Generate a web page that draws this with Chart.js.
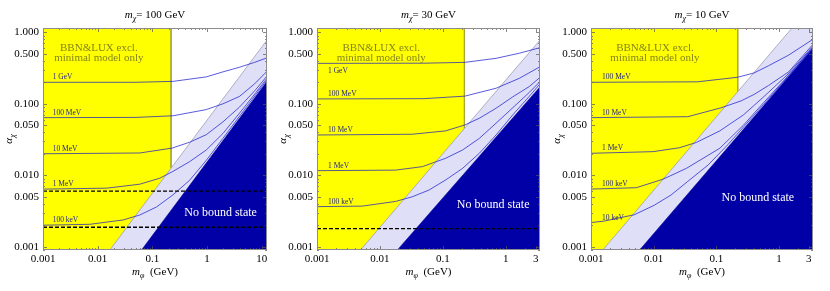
<!DOCTYPE html>
<html>
<head>
<meta charset="utf-8">
<title>Bound state regions</title>
<script src="https://cdn.jsdelivr.net/npm/chart.js@4"></script>
<style>
  body { margin: 0; background: #fff; width: 830px; height: 291px; position: relative; overflow: hidden; }
  .panel { position: absolute; top: 0; }
</style>
</head>
<body>
<div class="panel" style="left:0px"><canvas id="p1" width="277" height="291"></canvas></div>
<div class="panel" style="left:277px"><canvas id="p2" width="277" height="291"></canvas></div>
<div class="panel" style="left:554px"><canvas id="p3" width="276" height="291"></canvas></div>
<script>
const FONT = "'Liberation Serif', 'DejaVu Serif', serif";

// Axes
const yTicks = [0.001, 0.005, 0.01, 0.05, 0.1, 0.5, 1];
const yTickLabels = ['0.001', '0.005', '0.010', '0.050', '0.100', '0.500', '1.000'];
const xTicksP1 = [0.001, 0.01, 0.1, 1, 10];
const xTickLabelsP1 = ['0.001', '0.01', '0.1', '1', '10'];
const xTicksP23 = [0.001, 0.01, 0.1, 1, 3];
const xTickLabelsP23 = ['0.001', '0.01', '0.1', '1', '3'];
const massLabels = ['100 GeV', '30 GeV', '10 GeV'];

// Panel 1: m_chi = 100 GeV
const p1YellowX = [0.001, 0.22, 0.22];
const p1YellowY = [1.15, 1.15, 0.0126];
const p1BandX = [0.0167, 12.5];
const p1BandY = [0.0009, 0.78];
const p1DarkX = [0.0633, 12.5];
const p1DarkY = [0.0009, 0.206];
const p1Dashed = [0.006, 0.00187];
const p1Labels = ['1 GeV', '100 MeV', '10 MeV', '1 MeV', '100 keV'];
const p1C1X = [0.001, 0.05, 0.24, 0.97, 1.96, 2.93, 3.93, 7.4, 12.5];
const p1C1Y = [0.2, 0.2, 0.206, 0.238, 0.28, 0.305, 0.325, 0.38, 0.44];
const p1C2X = [0.001, 0.05, 0.24, 0.97, 1.96, 3.93, 7.4, 12.5];
const p1C2Y = [0.064, 0.0645, 0.068, 0.083, 0.1, 0.127, 0.19, 0.285];
const p1C3X = [0.001, 0.059, 0.23, 0.48, 0.97, 1.96, 3.93, 7.9, 12.5];
const p1C3Y = [0.02, 0.0205, 0.024, 0.029, 0.037, 0.056, 0.09, 0.16, 0.245];
const p1C4X = [0.001, 0.0146, 0.059, 0.137, 0.237, 0.48, 0.97, 1.96, 3.93, 7.9, 12.5];
const p1C4Y = [0.0064, 0.0066, 0.0075, 0.0091, 0.0113, 0.0155, 0.0226, 0.0385, 0.074, 0.145, 0.228];
const p1C5X = [0.001, 0.0072, 0.0293, 0.059, 0.119, 0.237, 0.48, 0.97, 1.96, 3.93, 7.9, 12.5];
const p1C5Y = [0.002, 0.00206, 0.00237, 0.00278, 0.0036, 0.0053, 0.0085, 0.0162, 0.033, 0.067, 0.136, 0.216];

// Panel 2: m_chi = 30 GeV
const p2YellowX = [0.001, 0.22, 0.22];
const p2YellowY = [1.15, 1.15, 0.0452];
const p2BandX = [0.00491, 3.5];
const p2BandY = [0.0009, 0.78];
const p2DarkX = [0.0189, 3.5];
const p2DarkY = [0.0009, 0.173];
const p2Dashed = [0.00179];
const p2Labels = ['1 GeV', '100 MeV', '10 MeV', '1 MeV', '100 keV'];
const p2C1X = [0.001, 0.05, 0.224, 0.7, 1.64, 3.5];
const p2C1Y = [0.368, 0.37, 0.38, 0.433, 0.51, 0.61];
const p2C2X = [0.001, 0.05, 0.224, 0.7, 1.64, 3.5];
const p2C2Y = [0.117, 0.118, 0.128, 0.165, 0.227, 0.33];
const p2C3X = [0.001, 0.0327, 0.111, 0.224, 0.38, 0.7, 1.29, 2.38, 3.5];
const p2C3Y = [0.0366, 0.0375, 0.0418, 0.0506, 0.0628, 0.0866, 0.125, 0.175, 0.235];
const p2C4X = [0.001, 0.0177, 0.0473, 0.111, 0.206, 0.38, 0.7, 1.29, 2.38, 3.5];
const p2C4Y = [0.0116, 0.0118, 0.0132, 0.0173, 0.0226, 0.0328, 0.0535, 0.088, 0.145, 0.205];
const p2C5X = [0.001, 0.00522, 0.0177, 0.0327, 0.06, 0.111, 0.206, 0.38, 0.7, 1.29, 2.38, 3.5];
const p2C5Y = [0.00364, 0.0037, 0.0043, 0.005, 0.0062, 0.0086, 0.0125, 0.0203, 0.0366, 0.07, 0.128, 0.19];

// Panel 3: m_chi = 10 GeV
const p3YellowX = [0.001, 0.22, 0.22];
const p3YellowY = [1.15, 1.15, 0.148];
const p3BandX = [0.00154, 1.62, 3.5];
const p3BandY = [0.0009, 1.15, 1.15];
const p3DarkX = [0.00596, 3.5];
const p3DarkY = [0.0009, 0.597];
const p3Dashed = [];
const p3Labels = ['100 MeV', '10 MeV', '1 MeV', '100 keV', '10 keV'];
const p3C1X = [0.001, 0.05, 0.218, 0.4, 0.68, 1.43, 3.5];
const p3C1Y = [0.2, 0.203, 0.235, 0.27, 0.34, 0.48, 0.8];
const p3C2X = [0.001, 0.035, 0.12, 0.25, 0.4, 0.68, 1.43, 3.5];
const p3C2Y = [0.064, 0.066, 0.088, 0.11, 0.135, 0.18, 0.28, 0.68];
const p3C3X = [0.001, 0.0098, 0.026, 0.0483, 0.114, 0.27, 0.57, 1.35, 3.5];
const p3C3Y = [0.0203, 0.0214, 0.0243, 0.0288, 0.0418, 0.0697, 0.125, 0.253, 0.64];
const p3C4X = [0.001, 0.0053, 0.0141, 0.0334, 0.114, 0.27, 0.57, 1.35, 3.5];
const p3C4Y = [0.0064, 0.0067, 0.0088, 0.0125, 0.0239, 0.05, 0.104, 0.238, 0.62];
const p3C5X = [0.001, 0.0016, 0.0049, 0.0102, 0.019, 0.035, 0.074, 0.154, 0.57, 1.35, 3.5];
const p3C5Y = [0.00218, 0.00228, 0.0028, 0.0038, 0.0053, 0.0082, 0.0139, 0.027, 0.098, 0.232, 0.61];

const Y_MIN = 0.0009, Y_MAX = 1.15, X_MIN = 0.001;

const YELLOW = '#ffff00';
const YELLOW_EDGE = '#a9a935';
const BAND = '#dfe0f7';
const BAND_EDGE = '#9d9db8';
const DARK = '#0000a6';
const CURVE = 'rgba(20, 20, 205, 0.7)';
const CURVE_TEXT = '#22228a';
const TEXT_OLIVE = '#85851c';

const xy = (xs, ys) => xs.map((x, i) => ({ x, y: ys[i] }));

// draw a run of text pieces, some italic, some as subscripts
function drawRich(ctx, parts, x, y, size) {
  const font = p => `${p.italic ? 'italic ' : ''}${p.sub ? Math.round(size * 0.72) : size}px ${FONT}`;
  let total = 0;
  parts.forEach(p => { ctx.font = font(p); total += ctx.measureText(p.t).width; });
  let cx = x - total / 2;
  ctx.textAlign = 'left';
  ctx.textBaseline = 'alphabetic';
  parts.forEach(p => {
    ctx.font = font(p);
    ctx.fillText(p.t, cx, y + (p.sub ? size * 0.28 : 0));
    cx += ctx.measureText(p.t).width;
  });
}

function logSteps(min, max) {
  const out = [];
  for (let e = Math.floor(Math.log10(min)); e <= Math.ceil(Math.log10(max)); e++) {
    for (let k = 1; k < 10; k++) {
      const v = k * Math.pow(10, e);
      if (v >= min * 0.999 && v <= max * 1.001) out.push(v);
    }
  }
  return out;
}

const panelDecor = {
  id: 'panelDecor',
  afterDatasetsDraw(chart, args, o) {
    const { ctx, chartArea: a, scales: { x, y } } = chart;
    ctx.save();

    // frame ticks, pointing inwards on all four sides
    ctx.strokeStyle = '#555';
    ctx.lineWidth = 0.7;
    const isMajor = (list, v) => list.some(t => Math.abs(t - v) / t < 1e-6);
    logSteps(x.min, x.max).forEach(v => {
      const px = Math.round(x.getPixelForValue(v)) + 0.5;
      const len = isMajor(o.xTicks, v) ? 4 : 2;
      ctx.beginPath();
      ctx.moveTo(px, a.bottom); ctx.lineTo(px, a.bottom - len);
      ctx.moveTo(px, a.top); ctx.lineTo(px, a.top + len);
      ctx.stroke();
    });
    logSteps(y.min, y.max).forEach(v => {
      const py = Math.round(y.getPixelForValue(v)) + 0.5;
      const len = isMajor(yTicks, v) ? 4 : 2;
      ctx.beginPath();
      ctx.moveTo(a.left, py); ctx.lineTo(a.left + len, py);
      ctx.moveTo(a.right, py); ctx.lineTo(a.right - len, py);
      ctx.stroke();
    });

    // frame
    ctx.strokeStyle = '#8c8c8c';
    ctx.lineWidth = 1;
    ctx.strokeRect(a.left + 0.5, a.top + 0.5, a.width - 1, a.height - 1);

    // curve labels
    ctx.fillStyle = CURVE_TEXT;
    ctx.font = `7.5px ${FONT}`;
    ctx.textAlign = 'left';
    ctx.textBaseline = 'alphabetic';
    o.curves.forEach((c, i) => {
      const px = x.getPixelForValue(0.0015);
      const py = y.getPixelForValue(c[1][0]);
      ctx.fillText(o.labels[i], px, o.below.includes(i) ? py + 10 : py - 3);
    });

    // region notes
    ctx.fillStyle = TEXT_OLIVE;
    ctx.font = `11px ${FONT}`;
    ctx.textAlign = 'center';
    ctx.textBaseline = 'middle';
    ctx.fillText('BBN&LUX excl.', x.getPixelForValue(0.0105), y.getPixelForValue(0.6));
    ctx.fillText('minimal model only', x.getPixelForValue(0.0105), y.getPixelForValue(0.43));

    ctx.fillStyle = '#ffffff';
    ctx.font = `12px ${FONT}`;
    ctx.fillText('No bound state', x.getPixelForValue(o.noBound[0]), y.getPixelForValue(o.noBound[1]));

    // title and axis titles
    ctx.fillStyle = '#000';
    const cx = (a.left + a.right) / 2;
    drawRich(ctx, [{ t: 'm', italic: true }, { t: 'χ', italic: true, sub: true }, { t: '= ' + o.title }], cx, 18, 11);
    drawRich(ctx, [{ t: 'm', italic: true }, { t: 'φ', italic: true, sub: true }, { t: '  (GeV)' }], cx, 275, 11);
    ctx.translate(a.left - 31, (a.top + a.bottom) / 2);
    ctx.rotate(-Math.PI / 2);
    drawRich(ctx, [{ t: 'α', italic: true }, { t: 'χ', italic: true, sub: true }], 0, 0, 11);
    ctx.restore();
  }
};

function makePanel(id, p) {
  const curveSets = p.curves.map(c => ({
    data: xy(c[0], c[1]), showLine: true, pointRadius: 0,
    borderColor: CURVE, borderWidth: 1, fill: false, order: 2
  }));
  const dashedSets = p.dashed.map(v => ({
    data: xy([X_MIN, p.xMax], [v, v]), showLine: true, pointRadius: 0,
    borderColor: '#000', borderWidth: 1.4, borderDash: [4, 2], fill: false, order: 1
  }));
  return new Chart(document.getElementById(id), {
    type: 'scatter',
    data: {
      datasets: [
        { data: xy(p.yellow[0], p.yellow[1]), showLine: true, pointRadius: 0, fill: 'start',
          backgroundColor: YELLOW, borderWidth: 1, order: 5,
          segment: { borderColor: ctx => ctx.p0DataIndex === 0 ? 'rgba(0,0,0,0)' : YELLOW_EDGE } },
        { data: xy(p.band[0], p.band[1]), showLine: true, pointRadius: 0, fill: 'start',
          backgroundColor: BAND, borderColor: BAND_EDGE, borderWidth: 0.8, order: 4 },
        { data: xy(p.dark[0], p.dark[1]), showLine: true, pointRadius: 0, fill: 'start',
          backgroundColor: DARK, borderColor: DARK, borderWidth: 0.5, order: 3 },
        ...curveSets,
        ...dashedSets
      ]
    },
    options: {
      responsive: false,
      animation: false,
      events: [],
      layout: { padding: { top: 28, right: p.padRight, left: 0, bottom: 0 } },
      plugins: {
        legend: { display: false },
        tooltip: { enabled: false },
        panelDecor: {
          xTicks: p.xTicks, curves: p.curves, labels: p.labels, below: p.below,
          noBound: p.noBound, title: p.title
        }
      },
      scales: {
        x: {
          type: 'logarithmic', min: X_MIN, max: p.xMax,
          grid: { display: false, drawTicks: false }, border: { display: false },
          afterFit: s => { s.height = 41; },
          afterBuildTicks: s => { s.ticks = p.xTicks.map(v => ({ value: v })); },
          ticks: { autoSkip: false, maxRotation: 0, padding: 3, color: '#000',
                   font: { family: FONT, size: 11 }, callback: (v, i) => p.xTickLabels[i] }
        },
        y: {
          type: 'logarithmic', min: Y_MIN, max: Y_MAX,
          grid: { display: false, drawTicks: false }, border: { display: false },
          afterFit: s => { s.width = p.yWidth; },
          afterBuildTicks: s => { s.ticks = yTicks.map(v => ({ value: v })); },
          ticks: { autoSkip: false, padding: 4, color: '#000',
                   font: { family: FONT, size: 11 }, callback: (v, i) => yTickLabels[i] }
        }
      }
    },
    plugins: [panelDecor]
  });
}

makePanel('p1', {
  title: massLabels[0], xMax: 12.5, yWidth: 43, padRight: 10,
  xTicks: xTicksP1, xTickLabels: xTickLabelsP1,
  yellow: [p1YellowX, p1YellowY], band: [p1BandX, p1BandY], dark: [p1DarkX, p1DarkY],
  dashed: p1Dashed, labels: p1Labels, below: [], noBound: [1.77, 0.00294],
  curves: [[p1C1X, p1C1Y], [p1C2X, p1C2Y], [p1C3X, p1C3Y], [p1C4X, p1C4Y], [p1C5X, p1C5Y]]
});
makePanel('p2', {
  title: massLabels[1], xMax: 3.5, yWidth: 40, padRight: 14,
  xTicks: xTicksP23, xTickLabels: xTickLabelsP23,
  yellow: [p2YellowX, p2YellowY], band: [p2BandX, p2BandY], dark: [p2DarkX, p2DarkY],
  dashed: p2Dashed, labels: p2Labels, below: [0], noBound: [0.63, 0.0039],
  curves: [[p2C1X, p2C1Y], [p2C2X, p2C2Y], [p2C3X, p2C3Y], [p2C4X, p2C4Y], [p2C5X, p2C5Y]]
});
makePanel('p3', {
  title: massLabels[2], xMax: 3.5, yWidth: 37, padRight: 17,
  xTicks: xTicksP23, xTickLabels: xTickLabelsP23,
  yellow: [p3YellowX, p3YellowY], band: [p3BandX, p3BandY], dark: [p3DarkX, p3DarkY],
  dashed: p3Dashed, labels: p3Labels, below: [], noBound: [0.46, 0.0049],
  curves: [[p3C1X, p3C1Y], [p3C2X, p3C2Y], [p3C3X, p3C3Y], [p3C4X, p3C4Y], [p3C5X, p3C5Y]]
});
</script>
</body>
</html>
